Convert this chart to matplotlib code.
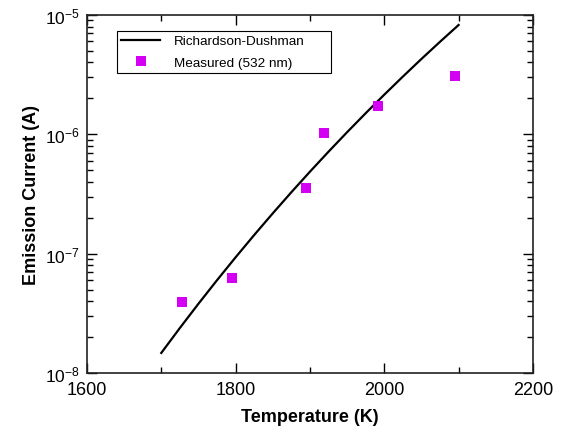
import matplotlib
matplotlib.use("Agg")
import matplotlib.pyplot as plt
from matplotlib.ticker import LogLocator, FixedLocator, LogFormatterMathtext, NullFormatter

plt.rcParams['font.family'] = ['Liberation Sans', 'DejaVu Sans']
plt.rcParams['mathtext.fontset'] = 'custom'
plt.rcParams['mathtext.rm'] = 'Liberation Sans'
plt.rcParams['mathtext.it'] = 'Liberation Sans:italic'
plt.rcParams['mathtext.bf'] = 'Liberation Sans:bold'

# Richardson-Dushman curve (every 25 K)
rd_temp = [1700, 1725, 1750, 1775, 1800, 1825, 1850, 1875, 1900,
           1925, 1950, 1975, 2000, 2025, 2050, 2075, 2100]
rd_current = [1.4723e-8, 2.3825e-8, 3.8037e-8, 5.9928e-8, 9.3217e-8,
              1.4329e-7, 2.1767e-7, 3.2706e-7, 4.8606e-7, 7.1499e-7,
              1.0416e-6, 1.5025e-6, 2.1482e-6, 3.0445e-6, 4.2798e-6,
              5.9619e-6, 8.2404e-6]

# Measured points (532 nm)
meas_temp = [1728, 1795, 1895, 1919, 1992, 2095]
meas_current = [3.9e-8, 6.3e-8, 3.55e-7, 1.02e-6, 1.74e-6, 3.05e-6]

fig = plt.figure(figsize=(5.61, 4.31), dpi=100)
ax = fig.add_axes([0.155, 0.1323, 0.795, 0.8307])

ax.plot(rd_temp, rd_current, color='black', lw=1.6, solid_joinstyle='round',
        label='Richardson-Dushman')
ax.plot(meas_temp, meas_current, ls='none', marker='s', ms=7.8, mfc='#d400f4',
        mec='#d400f4', mew=0, label='Measured (532 nm)')

ax.set_yscale('log')
ax.set_xlim(1600, 2200)
ax.set_ylim(1e-8, 1e-5)
ax.set_xticks([1600, 1800, 2000, 2200])
ax.xaxis.set_minor_locator(FixedLocator([1700, 1900, 2100]))
ax.yaxis.set_major_locator(LogLocator(base=10, numticks=10))
ax.yaxis.set_minor_locator(LogLocator(base=10, subs=range(2, 10), numticks=20))
ax.yaxis.set_major_formatter(LogFormatterMathtext())
ax.yaxis.set_minor_formatter(NullFormatter())

ax.tick_params(which='both', direction='in', top=True, right=True, width=1.0)
ax.tick_params(axis='x', labelsize=13, pad=6)
ax.tick_params(axis='y', labelsize=12.5, pad=5)
ax.tick_params(which='major', length=7)
ax.tick_params(which='minor', length=4)
for s in ax.spines.values():
    s.set_linewidth(1.2)
    s.set_color('#222222')

ax.set_xlabel('Temperature (K)', fontsize=13, fontweight='bold', labelpad=7)
ax.set_ylabel('Emission Current (A)', fontsize=13, fontweight='bold', labelpad=4)

leg = ax.legend(loc='upper left', bbox_to_anchor=(0.0673, 0.8436, 0.4798, 0.1117),
                mode='expand', fontsize=9.7,
                frameon=True, fancybox=False, edgecolor='black', framealpha=1,
                handlelength=2.9, borderpad=0.3, labelspacing=0.65, handletextpad=1.0,
                borderaxespad=0)
leg.get_frame().set_linewidth(0.8)

fig.savefig('out.png', dpi=100)
